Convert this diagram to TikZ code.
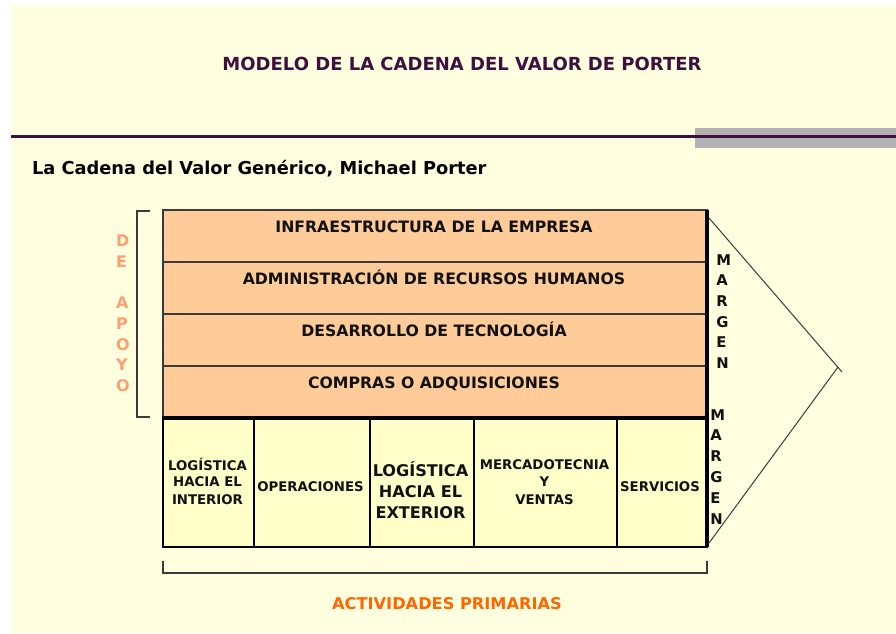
\documentclass[tikz,border=0pt]{standalone}
\usepackage{fontspec}
\setmainfont{DejaVu Sans}
\definecolor{bgcol}{HTML}{FFFFE0}
\definecolor{suppfill}{HTML}{FFCC99}
\definecolor{primfill}{HTML}{FFFFCA}
\definecolor{titlecol}{HTML}{3F0F3F}
\definecolor{greybar}{HTML}{B2B2B2}
\definecolor{linegray}{HTML}{3A3A3A}
\definecolor{txtdark}{HTML}{111111}
\definecolor{salmon}{HTML}{FF9F70}
\definecolor{orangecol}{HTML}{FF6600}
\begin{document}
\begin{tikzpicture}[x=1pt,y=-1pt,
  every node/.style={inner sep=0pt, outer sep=0pt},
  supp/.style={draw=linegray, line width=1.2pt, fill=suppfill, minimum width=544pt, minimum height=52pt, anchor=north west},
  prim/.style={draw=black, line width=1.2pt, fill=primfill, minimum height=130pt, anchor=north west},
  rowtxt/.style={font=\fontsize{15.7}{18}\selectfont\bfseries, text=txtdark, anchor=base},
  smalltxt/.style={font=\fontsize{13.3}{16}\selectfont\bfseries, text=txtdark, anchor=base},
  bigtxt/.style={font=\fontsize{16.1}{19}\selectfont\bfseries, text=txtdark, anchor=base},
  vletter/.style={font=\fontsize{16}{18}\selectfont\bfseries, text=salmon, anchor=base west},
  mletter/.style={font=\fontsize{14.8}{17}\selectfont\bfseries, text=txtdark, anchor=base west},
  thin/.style={draw=linegray, line width=1.2pt},
  thick/.style={draw=black, line width=3.5pt}
]
\useasboundingbox (0,0) rectangle (896,633);
\fill[bgcol] (11,6) rectangle (896,633);

% header
\node[font=\fontsize{18}{20}\selectfont\bfseries, text=titlecol, anchor=base] (title) at (462,70.5) {MODELO DE LA CADENA DEL VALOR DE PORTER};
\fill[greybar] (695,128) rectangle (896,148);
\coordinate (hl) at (11,136);
\coordinate (hr) at (896,136);
\draw[titlecol, line width=3pt] (hl) -- (hr);
\node[font=\fontsize{17.8}{20}\selectfont\bfseries, text=black, anchor=base west] (subtitle) at (32,174.5) {La Cadena del Valor Genérico, Michael Porter};

% support activities
\node[supp] (r1) at (163,210) {};
\node[supp] (r2) at (163,262) {};
\node[supp] (r3) at (163,314) {};
\node[supp] (r4) at (163,366) {};
\draw[draw=linegray, line width=2pt] (r1.north west) -- (r1.north east);
\node[rowtxt] (t1) at (434,232) {INFRAESTRUCTURA DE LA EMPRESA};
\node[rowtxt] (t2) at (434,284) {ADMINISTRACIÓN DE RECURSOS HUMANOS};
\node[rowtxt] (t3) at (434,336) {DESARROLLO DE TECNOLOGÍA};
\node[rowtxt] (t4) at (434,388) {COMPRAS O ADQUISICIONES};

% primary activities
\node[prim, minimum width=91pt] (p1) at (163,417) {};
\node[prim, minimum width=116pt] (p2) at (254,417) {};
\node[prim, minimum width=104pt] (p3) at (370,417) {};
\node[prim, minimum width=143pt] (p4) at (474,417) {};
\node[prim, minimum width=90pt] (p5) at (617,417) {};

\node[smalltxt] (p1a) at (207.5,470) {LOGÍSTICA};
\node[smalltxt] (p1b) at (207.5,486.5) {HACIA EL};
\node[smalltxt] (p1c) at (207.5,504) {INTERIOR};
\node[smalltxt] (p2a) at (310.5,491.5) {OPERACIONES};
\node[bigtxt] (p3a) at (420.5,476.7) {LOGÍSTICA};
\node[bigtxt] (p3b) at (420.5,497.3) {HACIA EL};
\node[bigtxt] (p3c) at (420.5,518) {EXTERIOR};
\node[smalltxt] (p4a) at (544.5,469) {MERCADOTECNIA};
\node[smalltxt] (p4b) at (544.5,486.5) {Y};
\node[smalltxt] (p4c) at (544.5,504) {VENTAS};
\node[smalltxt] (p5a) at (660,491.2) {SERVICIOS};

% thick separators
\draw[thick] (r4.south west) -- (r4.south east);
\draw[thick] (r1.north east) -- (p5.south east);

% left bracket + DE APOYO
\coordinate (lb1) at (150,211);
\coordinate (lb2) at (137,211);
\coordinate (lb3) at (137,417);
\coordinate (lb4) at (150,417);
\draw[thin] (lb1) -- (lb2) -- (lb3) -- (lb4);
\node[vletter] (dD) at (116,246.5) {D};
\node[vletter] (dE) at (116,267.2) {E};
\node[vletter] (dA) at (116,308.6) {A};
\node[vletter] (dP) at (116,329.3) {P};
\node[vletter] (dO) at (116,350) {O};
\node[vletter] (dY) at (116,370.7) {Y};
\node[vletter] (dO2) at (116,391.4) {O};

% margin labels
\node[mletter] (mM) at (716.3,265) {M};
\node[mletter] (mA) at (716.3,285.7) {A};
\node[mletter] (mR) at (716.3,306.3) {R};
\node[mletter] (mG) at (716.3,327) {G};
\node[mletter] (mE) at (716.3,347.6) {E};
\node[mletter] (mN) at (716.3,368.3) {N};
\node[mletter] (nM) at (710.3,420) {M};
\node[mletter] (nA) at (710.3,440.8) {A};
\node[mletter] (nR) at (710.3,461.6) {R};
\node[mletter] (nG) at (710.3,482.4) {G};
\node[mletter] (nE) at (710.3,503.2) {E};
\node[mletter] (nN) at (710.3,524) {N};

% margin triangle
\coordinate (mt) at (709,218);
\coordinate (tip) at (842,372);
\coordinate (tip2) at (838,367);
\coordinate (mb) at (709,543);
\draw[thin, line width=1pt] (mt) -- (tip);
\draw[thin, line width=1pt] (tip2) -- (mb);

% bottom bracket + label
\coordinate (bb1) at (163,561);
\coordinate (bb2) at (163,573);
\coordinate (bb3) at (707,573);
\coordinate (bb4) at (707,561);
\draw[thin] (bb1) -- (bb2) -- (bb3) -- (bb4);
\node[font=\fontsize{16.2}{18}\selectfont\bfseries, text=orangecol, anchor=base] (prima) at (447,609) {ACTIVIDADES PRIMARIAS};
\end{tikzpicture}
\end{document}
